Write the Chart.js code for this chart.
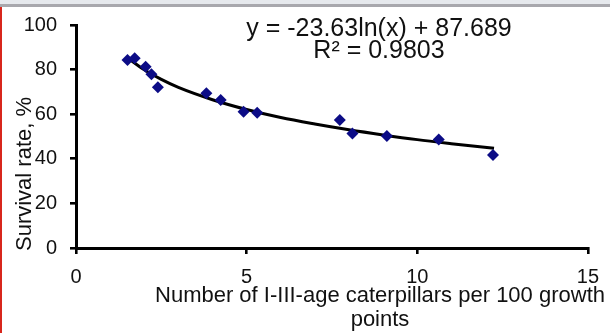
<!DOCTYPE html>
<html>
<head>
<meta charset="utf-8">
<script src="https://cdn.jsdelivr.net/npm/chart.js@4/dist/chart.umd.min.js"></script>
<style>
  html, body { margin: 0; padding: 0; background: #fff; }
  #wrap { position: relative; width: 610px; height: 333px; overflow: hidden; }
  #c { position: absolute; left: 0; top: 0; }
  #topA { position: absolute; left: 0; top: 0; width: 610px; height: 4px; background: #e6e9ed; }
  #topB { position: absolute; left: 0; top: 4px; width: 610px; height: 3px; background: #a8a8ad; }
  #leftR { position: absolute; left: 0; top: 7px; width: 2px; height: 326px; background: #d8261c; }
</style>
</head>
<body>
<div id="wrap">
  <canvas id="c" width="610" height="333"></canvas>
  <div id="topA"></div><div id="topB"></div><div id="leftR"></div>
</div>
<script>
// Observed points (density of caterpillars vs survival rate)
const densityX = [1.51, 1.72, 2.04, 2.21, 2.40, 3.82, 4.24, 4.91, 5.31, 7.73, 8.10, 9.11, 10.63, 12.22];
const survivalY = [84.3, 85.1, 81.3, 77.9, 72.1, 69.4, 66.4, 61.1, 60.7, 57.4, 51.3, 50.2, 48.7, 41.7];
const trendX = [1.53, 2.0, 2.5, 3.0, 4.0, 5.0, 6.0, 7.0, 8.0, 9.0, 10.0, 11.0, 12.25];
const trendY = [85.1, 79.9, 75.6, 72.0, 66.5, 62.1, 58.5, 55.6, 53.0, 50.7, 48.6, 46.8, 44.7];
// Axis ticks
const xTicks = [0, 5, 10, 15];
const yTicks = [0, 20, 40, 60, 80, 100];
// Texts
const equationText = "y = -23.63ln(x) + 87.689";
const r2Text = "R\u00B2 = 0.9803";
const xTitleLines = ["Number of I-III-age caterpillars per 100 growth", "points"];
const yTitle = "Survival rate, %";

const FONT = "'Liberation Sans', Arial, sans-serif";
const TXT = "#111";

const textPlugin = {
  id: 'texts',
  afterDraw(chart) {
    const ctx = chart.ctx;
    const a = chart.chartArea;
    ctx.save();
    ctx.fillStyle = TXT;
    ctx.textAlign = 'center';
    ctx.textBaseline = 'alphabetic';
    ctx.font = "25px " + FONT;
    ctx.fillText(equationText, a.left + 303, a.top + 11);
    ctx.fillText(r2Text, a.left + 303, a.top + 33);
    ctx.font = "22px " + FONT;
    ctx.fillText(xTitleLines[0], a.left + 304, a.bottom + 54);
    ctx.fillText(xTitleLines[1], a.left + 304, a.bottom + 78);
    ctx.translate(a.left - 45, a.top + 149);
    ctx.rotate(-Math.PI / 2);
    ctx.fillText(yTitle, 0, 0);
    ctx.restore();
  }
};

new Chart(document.getElementById('c'), {
  type: 'scatter',
  data: {
    datasets: [
      {
        label: 'trend',
        type: 'line',
        data: trendX.map((x, i) => ({ x, y: trendY[i] })),
        borderColor: '#000',
        borderWidth: 3,
        pointRadius: 0,
        tension: 0.4,
        cubicInterpolationMode: 'monotone',
        fill: false,
        order: 2
      },
      {
        label: 'observed',
        data: densityX.map((x, i) => ({ x, y: survivalY[i] })),
        pointStyle: 'rectRot',
        pointRadius: 6,
        pointBackgroundColor: '#0c0c86',
        pointBorderColor: '#0c0c86',
        pointBorderWidth: 0,
        order: 1
      }
    ]
  },
  options: {
    responsive: false,
    animation: false,
    devicePixelRatio: 1,
    layout: { padding: { top: 25, right: 20, left: 0, bottom: 0 } },
    plugins: { legend: { display: false }, tooltip: { enabled: false }, title: { display: false } },
    scales: {
      x: {
        type: 'linear',
        min: 0, max: 15,
        afterBuildTicks(s) { s.ticks = xTicks.map(v => ({ value: v })); },
        afterFit(s) { s.height = 85; },
        border: { display: true, color: '#000', width: 3 },
        grid: { display: true, drawOnChartArea: false, drawTicks: true, tickLength: 6, color: '#000', lineWidth: 2.6 },
        ticks: { font: { family: FONT, size: 20 }, color: TXT, padding: 11, maxRotation: 0 }
      },
      y: {
        type: 'linear',
        min: 0, max: 100,
        afterBuildTicks(s) { s.ticks = yTicks.map(v => ({ value: v })); },
        afterFit(s) { s.width = 76; },
        border: { display: true, color: '#000', width: 3 },
        grid: { display: true, drawOnChartArea: false, drawTicks: true, tickLength: 6, color: '#000', lineWidth: 2.6 },
        ticks: { font: { family: FONT, size: 20 }, color: TXT, padding: 13 }
      }
    }
  },
  plugins: [textPlugin]
});
</script>
</body>
</html>
